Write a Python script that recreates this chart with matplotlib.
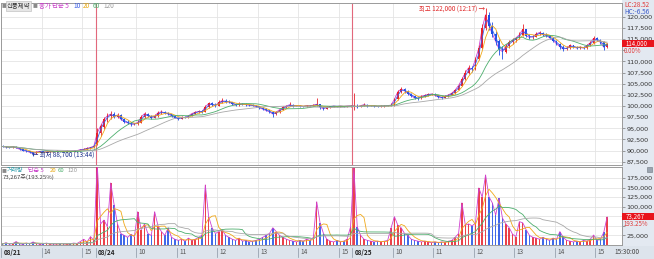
import matplotlib
matplotlib.use('Agg')
import matplotlib.pyplot as plt
from matplotlib.patches import Rectangle
import matplotlib.transforms as mtrans
import numpy as np
import pandas as pd

plt.rcParams['font.family'] = ['Noto Sans CJK KR', 'DejaVu Sans']

# 5-minute bars: 08/21 13:00~, 08/24, 08/25
opens = [
    # 08/21
    91000, 90900, 90800, 90700, 90900, 90600, 90300, 90000, 89900, 89600, 89300, 89700,
    89800, 89600, 89700, 89800, 89700, 89900, 89800, 89700, 89900, 89800, 89900, 90000,
    90200, 90300, 90500, 90700,
    # 08/24
    91500, 94000, 95300, 97000, 97800, 98200, 97600, 98000, 97000, 96500, 96200, 95900,
    96000, 96300, 97500, 98300, 97800, 97400, 97700, 98500, 98700, 98400, 98200, 97800,
    97400, 97100, 97500, 97400, 97800, 98300, 98600, 98800, 98700, 99800, 100600, 100300,
    100100, 100800, 101200, 101000, 100900, 100500, 100200, 100500, 100400, 100300, 100200, 100100,
    99900, 99600, 99300, 99000, 98700, 98200, 98600, 99200, 99700, 100000, 100300, 100000,
    100100, 100000, 99900, 100100, 100000, 100200, 100400, 99700, 99400, 99800, 99900, 100000,
    99900, 100000, 99900, 100000,
    # 08/25
    100000, 100000, 99800, 100100, 100300, 100000, 100100, 100000, 99900, 100000, 100000, 100100,
    100200, 101500, 103200, 103800, 103400, 102800, 102300, 101800, 101700, 102200, 102400, 102600,
    102700, 102400, 102000, 101900, 102200, 102500, 102900, 103600, 104600, 106000, 107500, 108600,
    108300, 110500, 113000, 117500, 120500, 118000, 116200, 114500, 112800, 112200, 113500, 114300,
    114800, 115300, 116000, 117200, 115800, 115400, 115600, 116200, 116500, 116000, 115800, 115300,
    114700, 114000, 113300, 112800, 113000, 113600, 113300, 113000, 113200, 113000, 113600, 114200,
    115200, 114800, 114300, 113200,
]
highs = [
    91200, 91100, 90900, 91000, 91000, 90700, 90400, 90200, 90000, 89700, 89900, 90000,
    89900, 89900, 90000, 89900, 90100, 90000, 89900, 90100, 90000, 90100, 90200, 90400,
    90500, 90700, 90900, 91300,
    95000, 96000, 97500, 98500, 98900, 98600, 98400, 98100, 97300, 96900, 96500, 96300,
    96800, 97900, 98700, 98500, 98000, 98100, 98900, 99100, 98900, 98600, 98300, 97900,
    97600, 97700, 97700, 98000, 98500, 98800, 99000, 99000, 100200, 101000, 100900, 100600,
    101300, 101900, 101500, 101400, 101000, 100700, 100800, 100700, 100600, 100500, 100400, 100200,
    100000, 99800, 99500, 99200, 98900, 98800, 99400, 99900, 100200, 100800, 100400, 100300,
    100200, 100100, 100300, 100200, 100400, 101900, 100500, 99800, 99900, 100000, 100100, 100100,
    100100, 100100, 100100, 100200,
    103000, 100400, 100300, 100600, 100400, 100300, 100200, 100100, 100200, 100200, 100300, 100600,
    101900, 103500, 104300, 104000, 103600, 103000, 102500, 102100, 102500, 102700, 102900, 103000,
    102900, 102500, 102200, 102400, 102700, 103100, 103900, 105000, 106500, 108000, 109200, 109000,
    111000, 113800, 118500, 122000, 121000, 118800, 116800, 115000, 113500, 114000, 114800, 115200,
    115600, 116600, 118500, 117400, 116100, 116000, 116700, 116900, 116700, 116300, 116000, 115500,
    114900, 114200, 113600, 113400, 113900, 113800, 113500, 113500, 113400, 113900, 114600, 115800,
    115500, 115000, 114500, 114200,
]
lows = [
    90800, 90600, 90500, 90600, 90500, 90200, 89900, 89700, 89400, 88700, 89200, 89600,
    89500, 89500, 89600, 89600, 89600, 89700, 89600, 89600, 89700, 89700, 89800, 89900,
    90100, 90200, 90400, 90600,
    91200, 93200, 94800, 96500, 97000, 97200, 97300, 96800, 96200, 95900, 95600, 95700,
    95800, 96200, 97300, 97600, 97100, 97200, 97600, 98300, 98200, 98000, 97600, 97200,
    96900, 97000, 97200, 97300, 97700, 98100, 98400, 98500, 98600, 99600, 100000, 99800,
    100000, 100600, 100700, 100600, 100200, 99900, 100100, 100200, 100100, 100000, 99900, 99700,
    99400, 99100, 98800, 98400, 97600, 98000, 98500, 99000, 99500, 99900, 99800, 99900,
    99800, 99700, 99800, 99900, 99900, 100100, 99300, 99000, 99300, 99600, 99800, 99800,
    99800, 99800, 99800, 99800,
    99200, 99500, 99700, 100000, 99800, 99900, 99800, 99700, 99800, 99800, 99900, 100000,
    100100, 101300, 102900, 103000, 102500, 102000, 101500, 101400, 101600, 102000, 102200, 102400,
    102200, 101800, 101600, 101800, 102100, 102400, 102800, 103500, 104400, 105800, 107200, 107600,
    108200, 110300, 112800, 117000, 117000, 115500, 113800, 111500, 110500, 111800, 113000, 113900,
    114400, 115000, 115800, 115500, 115000, 115100, 115400, 115900, 115700, 115500, 115000, 114400,
    113700, 112900, 112400, 112600, 112800, 113000, 112700, 112800, 112700, 112900, 113400, 114000,
    114500, 114000, 112500, 113000,
]
closes = [
    90900, 90800, 90700, 90900, 90600, 90300, 90000, 89900, 89600, 89300, 89700, 89800,
    89600, 89700, 89800, 89700, 89900, 89800, 89700, 89900, 89800, 89900, 90000, 90200,
    90300, 90500, 90700, 91000,
    94000, 95500, 97000, 97800, 98200, 97600, 98000, 97000, 96500, 96200, 95900, 96000,
    96300, 97500, 98300, 97800, 97400, 97700, 98500, 98700, 98400, 98200, 97800, 97400,
    97100, 97500, 97400, 97800, 98300, 98600, 98800, 98700, 99800, 100600, 100300, 100100,
    100800, 101200, 101000, 100900, 100500, 100200, 100500, 100400, 100300, 100200, 100100, 99900,
    99600, 99300, 99000, 98700, 98200, 98600, 99200, 99700, 100000, 100300, 100000, 100100,
    100000, 99900, 100100, 100000, 100200, 100400, 99700, 99400, 99800, 99900, 100000, 99900,
    100000, 99900, 100000, 100000,
    100000, 99800, 100100, 100300, 100000, 100100, 100000, 99900, 100000, 100000, 100100, 100200,
    101500, 103200, 103800, 103400, 102800, 102300, 101800, 101700, 102200, 102400, 102600, 102700,
    102400, 102000, 101900, 102200, 102500, 102900, 103600, 104600, 106000, 107500, 108600, 108300,
    110500, 113000, 117500, 120500, 118000, 116200, 114500, 112800, 112200, 113500, 114300, 114800,
    115300, 116000, 117200, 115800, 115400, 115600, 116200, 116500, 116000, 115800, 115300, 114700,
    114000, 113300, 112800, 113000, 113600, 113300, 113000, 113200, 113000, 113600, 114200, 115200,
    114800, 114300, 113200, 114000,
]
volumes = [
    3000, 6000, 2000, 4000, 9000, 3000, 2000, 5000, 3000, 8000, 4000, 2000,
    3000, 5000, 2000, 3000, 2000, 4000, 3000, 2000, 3000, 5000, 4000, 9000,
    15000, 8000, 22000, 12000,
    210000, 55000, 65000, 48000, 162000, 105000, 55000, 30000, 25000, 20000, 28000, 22000,
    87000, 40000, 55000, 30000, 25000, 87000, 50000, 35000, 25000, 45000, 20000, 15000,
    12000, 15000, 10000, 18000, 12000, 15000, 20000, 25000, 157000, 74000, 45000, 30000,
    35000, 40000, 25000, 20000, 15000, 12000, 18000, 10000, 12000, 8000, 10000, 12000,
    15000, 20000, 25000, 30000, 45000, 35000, 25000, 20000, 15000, 12000, 10000, 8000,
    12000, 10000, 15000, 12000, 20000, 113000, 57000, 30000, 15000, 10000, 8000, 12000,
    8000, 10000, 15000, 47000,
    200000, 47000, 25000, 15000, 12000, 10000, 8000, 10000, 8000, 10000, 12000, 44000,
    74000, 52000, 45000, 30000, 25000, 15000, 12000, 10000, 8000, 10000, 8000, 6000,
    8000, 6000, 8000, 7000, 10000, 12000, 20000, 30000, 110000, 52000, 55000, 50000,
    57000, 149000, 125000, 183000, 126000, 110000, 78000, 122000, 70000, 55000, 45000, 28000,
    22000, 61000, 58000, 40000, 25000, 20000, 18000, 15000, 20000, 15000, 12000, 18000,
    15000, 35000, 20000, 12000, 10000, 8000, 10000, 8000, 12000, 10000, 15000, 26000,
    12000, 15000, 33000, 73267,
]

tick_idx = [0, 12, 24, 28, 40, 52, 64, 76, 88, 100, 104, 116, 128, 140, 152, 164, 176]
tick_lbl = ['08/21', '14', '15', '08/24', '10', '11', '12', '13', '14', '15',
            '08/25', '10', '11', '12', '13', '14', '15']
day_starts = [28, 104]

# 1분봉 기준 이평 5,10,20,60,120 -> 5분봉 개수
price_ma = [1, 2, 4, 12, 24]
price_ma_col = ['#d040d0', '#3a5ee8', '#f0a818', '#4cae6c', '#a8a8a8']
price_ma_z = [2, 4, 4, 4, 4]
vol_ma = [1, 4, 12, 24]
vol_ma_col = ['#d040d0', '#f0a818', '#4cae6c', '#a8a8a8']

W, H = 654, 259
fig = plt.figure(figsize=(W / 100, H / 100), dpi=100)
fig.patch.set_facecolor('white')

def fbox(x0, y0, x1, y1):
    return [x0 / W, 1 - y1 / H, (x1 - x0) / W, (y1 - y0) / H]

# right strip and bottom band
fig.patches.append(Rectangle((622 / W, 0), 32 / W, 1, transform=fig.transFigure,
                             fc='#e3e9f1', ec='none', zorder=-5))
fig.patches.append(Rectangle((0, 0), 1, 13 / H, transform=fig.transFigure,
                             fc='#dde4ec', ec='none', zorder=-5))

ax = fig.add_axes(fbox(1, 3, 622, 165))
axv = fig.add_axes(fbox(1, 167, 622, 245), sharex=ax)

x = np.arange(len(closes))
o = np.array(opens)
c = np.array(closes)
hi = np.array(highs)
lo = np.array(lows)
v = np.array(volumes)
up = c >= o
col = np.where(up, '#e8202a', '#1f4fe6')

ax.set_xlim(-0.3, 183.4)
ax.set_ylim(86760, 123130)
axv.set_ylim(0, 203700)

hour_ticks = [t for t in tick_idx if t not in day_starts]
for a in (ax, axv):
    a.set_facecolor('white')
    a.set_xticks([t - 0.5 for t in hour_ticks])
    a.tick_params(axis='x', length=0, labelbottom=False)
    a.grid(True, color='#e4e4e4', lw=0.6)
    a.set_axisbelow(True)
    for s in a.spines.values():
        s.set_color('#9a9a9a')
        s.set_linewidth(0.7)
    a.yaxis.tick_right()
    for d in day_starts:
        a.axvline(d - 0.5, color='#e2687c', lw=0.8, zorder=1)

# labels hidden behind the current-value boxes are left blank
pt = np.arange(87500, 120001, 2500)
ax.set_yticks(pt, ['' if t == 112500 else f'{t:,}' for t in pt], fontsize=4.6,
              family='DejaVu Sans', color='#333333')
vt = np.arange(25000, 175001, 25000)
axv.set_yticks(vt, ['' if t in (50000, 75000) else f'{t:,}' for t in vt], fontsize=4.6,
               family='DejaVu Sans', color='#333333')
for a in (ax, axv):
    a.tick_params(axis='y', length=2, width=0.5, color='#777777', pad=1)

# candles
ax.vlines(x, lo, hi, colors=col, lw=0.6, zorder=3)
ax.bar(x, np.maximum(np.abs(c - o), 70), bottom=np.minimum(o, c), width=0.5,
       color=col, lw=0, zorder=3)

for w, cl, z in zip(price_ma, price_ma_col, price_ma_z):
    ax.plot(x, pd.Series(c).rolling(w, min_periods=1).mean(), color=cl, lw=0.6, zorder=z)

# volume
axv.bar(x, v, width=0.45, color=col, lw=0, zorder=3, alpha=0.85)
for w, cl in zip(vol_ma, vol_ma_col):
    axv.plot(x, pd.Series(v).rolling(w, min_periods=1).mean(), color=cl, lw=0.6, zorder=4)

# high / low marks
pk = int(np.argmax(hi))
ax.text(pk - 0.2, hi[pk] - 300, f'최고 {hi[pk]:,} (12:17) →', color='#e02828', fontsize=4.6,
        ha='right', va='center', zorder=6)
lw_i = int(np.argmin(lo))
ax.text(lw_i - 0.4, lo[lw_i] + 250, f'← 최저 {lo[lw_i]:,} (13:44)', color='#1a2f8c', fontsize=4.6,
        ha='left', va='center', zorder=6)

# header texts
def ftxt(px, py, s, color, size=4.6, **kw):
    fig.text(px / W, 1 - py / H, s, color=color, fontsize=size, va='center', ha='left', **kw)

ftxt(1.5, 6, '■', '#8a8a8a', 3.5)
ftxt(7, 6, '신풍제약', '#333333', bbox=dict(boxstyle='square,pad=0.15', fc='#e6e6e6', ec='#b8b8b8', lw=0.4))
ftxt(33, 6, '■', '#8a8a8a', 3.5)
ftxt(39, 6, '종가 단순 5', '#c83cc8')
ftxt(73, 6, '10', '#3a5ee8')
ftxt(83, 6, '20', '#e8a810')
ftxt(93, 6, '60', '#4cae6c')
ftxt(103, 6, '120', '#9a9a9a')

ftxt(1.5, 170.5, '■', '#8a8a8a', 3.5)
ftxt(7, 170.5, '거래량', '#2a9aa8', 4.3)
ftxt(28, 170.5, '단순 5', '#c83cc8', 4.3)
ftxt(50, 170.5, '20', '#e8a810', 4.3)
ftxt(58, 170.5, '60', '#4cae6c', 4.3)
ftxt(67, 170.5, '120', '#9a9a9a', 4.3)
ftxt(3, 177.5, f'{volumes[-1]:,}주(193.25%)', '#444444', 4.3)

# right side labels
ftxt(624, 5, 'LC:28.52', '#e03a3a')
ftxt(624, 12, 'HC:-6.56', '#3a5ac8')

def ypix(a, val):
    return H - a.transData.transform((0, val))[1]

yc = ypix(ax, closes[-1])
fig.patches.append(Rectangle((622 / W, 1 - (yc + 3.5) / H), 32 / W, 7 / H,
                             transform=fig.transFigure, fc='#e8141c', ec='none', zorder=5))
ftxt(626, yc, f'{closes[-1]:,}', 'white', 4.4, zorder=6)
ftxt(624, yc + 7.5, '0.00%', '#e03a3a', 4.4)

yv = ypix(axv, volumes[-1])
fig.patches.append(Rectangle((622 / W, 1 - (yv + 3.5) / H), 32 / W, 7 / H,
                             transform=fig.transFigure, fc='#e8141c', ec='none', zorder=5))
ftxt(626, yv, f'{volumes[-1]:,}', 'white', 4.4, zorder=6)
ftxt(624, yv + 7.5, '193.25%', '#e03a3a', 4.4)

fig.patches.append(Rectangle((647 / W, 1 - 172 / H), 5 / W, 5 / H, transform=fig.transFigure,
                             fc='#9aa4b0', ec='#707880', lw=0.4, zorder=5))

# x axis band
tr = mtrans.blended_transform_factory(ax.transData, fig.transFigure)
for t, s in zip(tick_idx, tick_lbl):
    fig.add_artist(plt.Line2D([t - 0.5, t - 0.5], [2 / H, 11 / H], transform=tr, color='#8a96a4', lw=0.5))
    bold = '/' in s
    fig.text(t + 0.2, 6.5 / H, s, transform=tr, fontsize=4.6, va='center', ha='left',
             color='#222222' if bold else '#555555', fontweight='bold' if bold else 'normal')
ftxt(614, 252.5, '15:30:00', '#444444')

fig.savefig('out.png', dpi=100)
